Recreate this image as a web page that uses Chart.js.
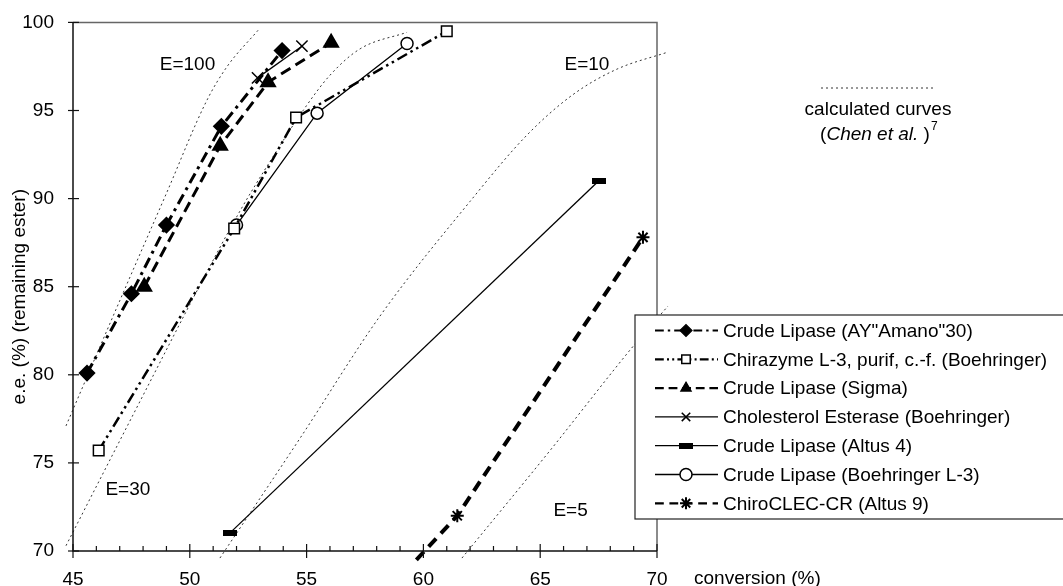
<!DOCTYPE html>
<html lang="en">
<head>
    <meta charset="UTF-8">
    <title>e.e. vs conversion</title>
    <style>
        body {
            margin: 0;
            padding: 0;
            background: #fff;
        }

        #wrap {
            width: 1063px;
            height: 586px;
            position: relative;
        }
    </style>
    <script src="https://cdn.jsdelivr.net/npm/chart.js"></script>
</head>
<body>
    <div id="wrap"><canvas id="eeChart"></canvas></div>
    <script>
        // measured series (conversion %, e.e. %)
        const amanoX = [45.6, 47.5, 49.0, 51.35, 53.95];
        const amanoY = [80.1, 84.6, 88.5, 94.1, 98.4];
        const chirazymeX = [46.1, 51.9, 54.55, 61.0];
        const chirazymeY = [75.7, 88.3, 94.6, 99.5];
        const sigmaX = [48.05, 51.3, 53.35, 56.05];
        const sigmaY = [85.0, 93.0, 96.6, 98.85];
        const cholX = [52.9, 54.8];
        const cholY = [96.85, 98.65];
        const altus4X = [51.7, 67.5];
        const altus4Y = [71.0, 91.0];
        const boehX = [52.0, 55.45, 59.3];
        const boehY = [88.5, 94.85, 98.8];
        const chiroX = [59.7, 61.45, 69.4];
        const chiroY = [69.5, 72.0, 87.8];

        // calculated curves (Chen et al.)
        const e100X = [44.7, 47.0, 49.0, 50.74, 51.6, 52.92];
        const e100Y = [77.1, 84.2, 90.3, 95.6, 97.5, 99.55];
        const e30X = [44.7, 47.87, 50.44, 52.15, 53.43, 54.85, 56.0, 57.29, 59.3];
        const e30Y = [70.3, 78.5, 85.1, 89.3, 92.1, 95.0, 97.0, 98.5, 99.44];
        const e10X = [51.29, 54.72, 58.14, 61.99, 64.43, 66.4, 68.29, 70.43];
        const e10Y = [69.6, 76.4, 83.33, 89.83, 93.6, 95.9, 97.35, 98.3];
        const e5X = [61.65, 65.42, 69.06, 70.47];
        const e5Y = [69.6, 75.7, 81.75, 83.9];

        const seriesNames = [
            'Crude Lipase (AY"Amano"30)',
            'Chirazyme L-3, purif, c.-f. (Boehringer)',
            'Crude Lipase (Sigma)',
            'Cholesterol Esterase (Boehringer)',
            'Crude Lipase (Altus 4)',
            'Crude Lipase (Boehringer L-3)',
            'ChiroCLEC-CR (Altus 9)'
        ];
        const curveNames = ['E=100', 'E=30', 'E=10', 'E=5'];
        const xTicks = [45, 50, 55, 60, 65, 70];
        const yTicks = [70, 75, 80, 85, 90, 95, 100];

        // where the E= labels sit (data units)
        const curveLabelAt = [[49.9, 97.6], [47.35, 73.45], [67.0, 97.6], [66.3, 72.3]];

        const FONT = '"Liberation Sans", Arial, sans-serif';

        function pts(xs, ys) {
            return xs.map((x, i) => ({ x: x, y: ys[i] }));
        }

        // small horizontal bar used as marker for Altus 4
        const barMark = document.createElement('canvas');
        barMark.width = 14;
        barMark.height = 6;
        const bctx = barMark.getContext('2d');
        bctx.fillStyle = '#000';
        bctx.fillRect(0, 0, 14, 6);

        function series(i, xs, ys, style) {
            return Object.assign({
                label: seriesNames[i],
                data: pts(xs, ys),
                showLine: true,
                borderColor: '#000',
                backgroundColor: '#000',
                pointBorderColor: '#000',
                tension: 0
            }, style);
        }

        function curve(i, xs, ys) {
            return {
                label: curveNames[i],
                data: pts(xs, ys),
                showLine: true,
                borderColor: '#333',
                borderWidth: 1,
                borderDash: [2, 3],
                pointRadius: 0,
                cubicInterpolationMode: 'monotone',
                clip: false,
                isCurve: true
            };
        }

        const datasets = [
            series(0, amanoX, amanoY, { borderWidth: 3, borderDash: [11, 5, 3, 5], pointStyle: 'rectRot', pointRadius: 6.5, pointBackgroundColor: '#000' }),
            series(1, chirazymeX, chirazymeY, { borderWidth: 2.5, borderDash: [11, 4, 2.5, 4, 2.5, 4], pointStyle: 'rect', pointRadius: 7.5, pointBackgroundColor: '#fff', pointBorderWidth: 1.5 }),
            series(2, sigmaX, sigmaY, { borderWidth: 3, borderDash: [11, 6], pointStyle: 'triangle', pointRadius: 7, pointBackgroundColor: '#000' }),
            series(3, cholX, cholY, { borderWidth: 1.3, pointStyle: 'crossRot', pointRadius: 8, pointBorderWidth: 1.5 }),
            series(4, altus4X, altus4Y, { borderWidth: 1.3, pointStyle: barMark }),
            series(5, boehX, boehY, { borderWidth: 1.3, pointStyle: 'circle', pointRadius: 6, pointBackgroundColor: '#fff', pointBorderWidth: 1.5 }),
            series(6, chiroX, chiroY, { borderWidth: 4, borderDash: [11, 7], pointStyle: 'star', pointRadius: 6.5, pointBorderWidth: 2, clip: false }),
            curve(0, e100X, e100Y),
            curve(1, e30X, e30Y),
            curve(2, e10X, e10Y),
            curve(3, e5X, e5Y)
        ];

        // frame, tick marks, labels and the boxed legend
        const decorations = {
            id: 'decorations',
            afterDraw(chart) {
                const ctx = chart.ctx;
                const a = chart.chartArea;
                const xs = chart.scales.x;
                const ys = chart.scales.y;
                ctx.save();

                // frame
                ctx.lineWidth = 1.5;
                ctx.strokeStyle = '#666';
                ctx.beginPath();
                ctx.moveTo(a.left, a.top);
                ctx.lineTo(a.right, a.top);
                ctx.lineTo(a.right, a.bottom);
                ctx.stroke();
                ctx.strokeStyle = '#111';
                ctx.beginPath();
                ctx.moveTo(a.left, a.top);
                ctx.lineTo(a.left, a.bottom);
                ctx.lineTo(a.right, a.bottom);
                ctx.stroke();

                // tick marks
                ctx.lineWidth = 1.2;
                xs.ticks.forEach(t => {
                    const px = xs.getPixelForValue(t.value);
                    const major = xTicks.includes(t.value);
                    ctx.beginPath();
                    ctx.moveTo(px, a.bottom - (major ? 7 : 5));
                    ctx.lineTo(px, a.bottom + (major ? 7 : 0));
                    ctx.stroke();
                });
                ys.ticks.forEach(t => {
                    const py = ys.getPixelForValue(t.value);
                    ctx.beginPath();
                    ctx.moveTo(a.left - 5, py);
                    ctx.lineTo(a.left + 6, py);
                    ctx.stroke();
                });

                ctx.fillStyle = '#000';
                ctx.font = '19px ' + FONT;
                ctx.textBaseline = 'middle';

                // curve labels
                ctx.textAlign = 'center';
                curveNames.forEach((n, i) => {
                    ctx.fillText(n, xs.getPixelForValue(curveLabelAt[i][0]), ys.getPixelForValue(curveLabelAt[i][1]));
                });

                // axis titles
                ctx.textAlign = 'left';
                ctx.fillText('conversion (%)', a.right + 37, a.bottom + 28);
                ctx.save();
                ctx.translate(20, (a.top + a.bottom) / 2 + 10);
                ctx.rotate(-Math.PI / 2);
                ctx.textAlign = 'center';
                ctx.fillText('e.e. (%) (remaining ester)', 0, 0);
                ctx.restore();

                // note on the calculated curves
                const cx = a.right + 221;
                ctx.strokeStyle = '#333';
                ctx.lineWidth = 1;
                ctx.setLineDash([2, 3]);
                ctx.beginPath();
                ctx.moveTo(cx - 57, 88);
                ctx.lineTo(cx + 58, 88);
                ctx.stroke();
                ctx.setLineDash([]);
                ctx.textAlign = 'center';
                ctx.fillText('calculated curves', cx, 110);
                ctx.textAlign = 'left';
                const p1 = '(', p2 = 'Chen et al.', p3 = ' )';
                ctx.font = '19px ' + FONT;
                const w1 = ctx.measureText(p1).width;
                const w3 = ctx.measureText(p3).width;
                ctx.font = 'italic 19px ' + FONT;
                const w2 = ctx.measureText(p2).width;
                let sx = cx - (w1 + w2 + w3 + 6) / 2;
                ctx.font = '19px ' + FONT;
                ctx.fillText(p1, sx, 135);
                ctx.font = 'italic 19px ' + FONT;
                ctx.fillText(p2, sx + w1, 135);
                ctx.font = '19px ' + FONT;
                ctx.fillText(p3, sx + w1 + w2, 135);
                ctx.font = '12px ' + FONT;
                ctx.fillText('7', sx + w1 + w2 + w3 + 1, 127);

                // legend box
                const lx = a.right - 22, ly = 315, lh = 204;
                ctx.fillStyle = '#fff';
                ctx.fillRect(lx, ly, chart.width - lx + 5, lh);
                ctx.strokeStyle = '#222';
                ctx.lineWidth = 1.2;
                ctx.strokeRect(lx, ly, chart.width - lx + 5, lh);

                chart.data.datasets.forEach((ds, i) => {
                    if (ds.isCurve) return;
                    const ry = ly + 15.5 + i * 28.8;
                    ctx.strokeStyle = '#000';
                    ctx.lineWidth = Math.min(ds.borderWidth, 2.2);
                    ctx.setLineDash(ds.borderDash ? ds.borderDash.map(v => v * 0.8) : []);
                    ctx.beginPath();
                    ctx.moveTo(lx + 20, ry);
                    ctx.lineTo(lx + 83, ry);
                    ctx.stroke();
                    ctx.setLineDash([]);
                    ctx.fillStyle = ds.pointBackgroundColor || '#000';
                    ctx.lineWidth = ds.pointBorderWidth || 1.2;
                    Chart.helpers.drawPoint(ctx, {
                        pointStyle: ds.pointStyle,
                        radius: Math.min(ds.pointRadius || 5, 6),
                        rotation: 0,
                        borderWidth: ds.pointBorderWidth || 1.2
                    }, lx + 51, ry);
                    ctx.fillStyle = '#000';
                    ctx.font = '19px ' + FONT;
                    ctx.textAlign = 'left';
                    ctx.fillText(ds.label, lx + 88, ry + 1);
                });

                ctx.restore();
            }
        };

        new Chart(document.getElementById('eeChart').getContext('2d'), {
            type: 'scatter',
            data: { datasets: datasets },
            options: {
                responsive: true,
                maintainAspectRatio: false,
                animation: false,
                layout: { padding: { left: 0, right: 406, top: 20, bottom: 0 } },
                plugins: {
                    legend: { display: false },
                    tooltip: { enabled: false }
                },
                scales: {
                    x: {
                        type: 'linear',
                        min: 45,
                        max: 70,
                        grid: { display: false },
                        border: { display: false },
                        afterFit: s => { s.height = 35; },
                        ticks: {
                            stepSize: 1,
                            autoSkip: false,
                            maxRotation: 0,
                            padding: 9,
                            color: '#000',
                            font: { family: FONT, size: 19 },
                            callback: v => xTicks.includes(v) ? String(v) : ''
                        }
                    },
                    y: {
                        type: 'linear',
                        min: 70,
                        max: 100,
                        grid: { display: false },
                        border: { display: false },
                        afterFit: s => { s.width = 73; },
                        ticks: {
                            stepSize: 5,
                            padding: 11,
                            color: '#000',
                            font: { family: FONT, size: 19 },
                            callback: v => yTicks.includes(v) ? String(v) : ''
                        }
                    }
                }
            },
            plugins: [decorations]
        });
    </script>
</body>
</html>
